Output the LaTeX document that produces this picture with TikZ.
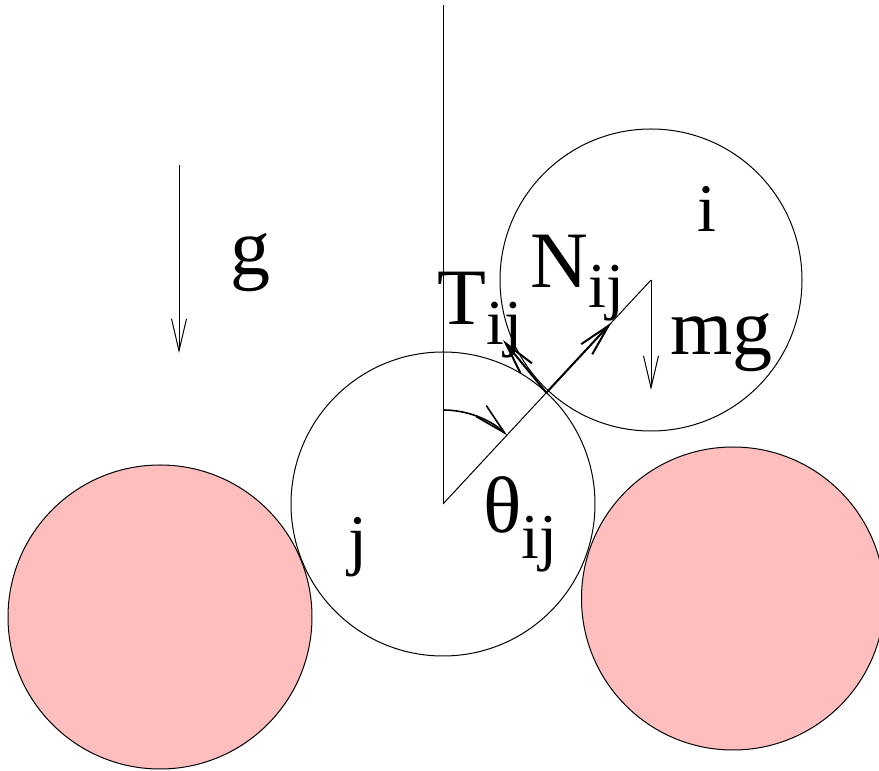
\documentclass[tikz,border=0pt]{standalone}
\usepackage{fontspec}
\setmainfont{Liberation Serif}
\usetikzlibrary{arrows.meta,calc}
\definecolor{grainpink}{RGB}{255,190,190}
\newcommand{\withij}[2][10pt]{#2\raisebox{-#1}{\fontsize{32}{32}\selectfont ij}}

\begin{document}
\begin{tikzpicture}[x=.5pt,y=.5pt,line width=.5pt,
 >={Straight Barb[length=16pt,width=7.5pt]},
 lbl/.style={anchor=base west,inner sep=0pt,font=\fontsize{40}{40}\selectfont},
 idx/.style={anchor=base,inner sep=0pt,font=\fontsize{34}{34}\selectfont},
 force/.style={->,line width=1pt}]
\useasboundingbox (0,0) rectangle (879,771);
% grains
\foreach \x/\y/\r in {160/154/152,733/172.5/151.5}{
 \draw[fill=grainpink] (\x,\y) circle[radius=\r];
}
\coordinate (cj) at (443,267);
\coordinate (ci) at (651,491);
\draw (cj) circle[radius=152];
\draw (ci) circle[radius=151];
% contact and forces
\coordinate (c) at ($(cj)!.497!(ci)$);
\coordinate (ntip) at ($(cj)!.81!(ci)$);
\coordinate (ttip) at (503,431);
\coordinate (vtop) at (443,766);
\coordinate (mgtip) at (651,381);
\coordinate (gtop) at (179,606);
\coordinate (gtip) at (179,418);
\coordinate (astart) at ($(cj)+(0,94)$);
\draw (cj) -- (vtop);
\draw (cj) -- (ci);
\draw[force] (c) -- (ntip);
\draw[force] (c) -- (ttip);
\draw[->] (ci) -- (mgtip);
\draw[->] (gtop) -- (gtip);
\draw[->,line width=.8pt] (astart) arc[start angle=90,end angle=47,radius=94];
% labels
\node[lbl] (gl) at (230,496) {g};
\node[lbl] (mgl) at (670,416) {mg};
\node[lbl] (tl) at (437,446) {\withij{T}};
\node[lbl] (nl) at (530,483) {\withij{N}};
\node[lbl] (thl) at (483,238) {\withij[13pt]{θ}};
\node[idx] (il) at (707,539) {i};
\node[idx] (jl) at (358,208) {j};
\end{tikzpicture}
\end{document}
